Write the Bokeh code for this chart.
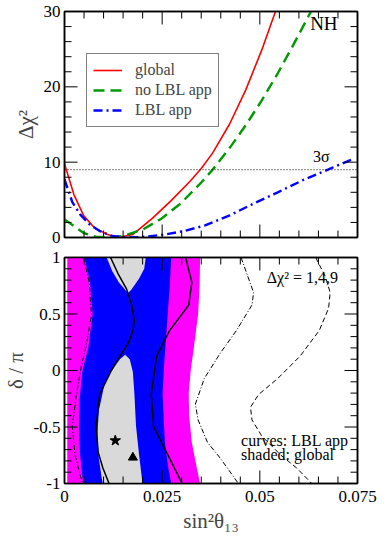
import numpy as np
from bokeh.plotting import figure
from bokeh.models import (Range1d, FixedTicker, LinearAxis, Legend, LegendItem,
                          Label, Span)
from bokeh.layouts import column
from bokeh.embed import file_html
from bokeh.resources import INLINE

FONT = "Liberation Serif"

# ---------------- data: top panel (delta chi^2 vs sin^2 theta13) ----------------
red_x = [0, 0.0024, 0.0049, 0.0077, 0.011, 0.0138, 0.0175, 0.0224, 0.0273, 0.0322,
         0.035, 0.0379, 0.0423, 0.0464, 0.0505, 0.054]
red_y = [9.8, 5.7, 2.9, 1.27, 0.4, 0.0, 0.4, 2.5, 4.9, 7.5,
         9.15, 11.2, 15.1, 19.6, 24.9, 30.0]

green_x = [0, 0.0049, 0.008, 0.0118, 0.015, 0.02, 0.0248, 0.0297, 0.035, 0.0379,
           0.0423, 0.0464, 0.0505, 0.0546, 0.0586, 0.0631]
green_y = [2.4, 0.6, 0.1, 0.0, 0.2, 1.05, 2.5, 4.5, 7.3, 9.0,
           11.9, 14.9, 18.2, 21.8, 25.6, 30.0]

blue_x = [0, 0.002, 0.0041, 0.0065, 0.009, 0.0122, 0.0167, 0.0208, 0.0257, 0.0305,
          0.036, 0.0423, 0.048, 0.0546, 0.061, 0.0683, 0.0737]
blue_y = [7.7, 4.7, 3.0, 1.7, 0.85, 0.2, 0.0, 0.1, 0.4, 0.85,
          1.6, 2.95, 4.4, 6.0, 7.6, 9.2, 10.4]

three_sigma = 9
series_labels = ["global", "no LBL app", "LBL app"]

top_xticks = [0, 0.025, 0.05, 0.075]
x_minor = [0.005, 0.01, 0.015, 0.02, 0.03, 0.035, 0.04, 0.045,
           0.055, 0.06, 0.065, 0.07]
top_yticks = [0, 10, 20, 30]
top_yminor = [2, 4, 6, 8, 12, 14, 16, 18, 22, 24, 26, 28]

# ---------------- data: bottom panel (delta/pi vs sin^2 theta13) ----------------
# global, Delta chi^2 = 9 region (magenta)
mag_left_d = [1, -1]
mag_left_x = [0.0007, 0.0007]
mag_right_d = [1, 0.75, 0.5, 0.2, 0, -0.2, -0.4, -0.64, -0.85, -1]
mag_right_x = [0.0347, 0.0346, 0.0342, 0.0331, 0.0323, 0.0318, 0.0319, 0.0326, 0.0338, 0.0347]
# global, Delta chi^2 = 4 region (blue)
blu_left_d = [1, 0.78, 0.5, 0.2, 0, -0.25, -0.5, -0.75, -1]
blu_left_x = [0.0051, 0.0065, 0.0072, 0.0061, 0.0046, 0.0039, 0.0037, 0.0040, 0.0048]
blu_right_d = [1, 0.78, 0.35, 0, -0.21, -0.64, -0.85, -1]
blu_right_x = [0.0273, 0.0270, 0.0261, 0.0254, 0.0251, 0.0257, 0.0265, 0.0273]
# global, Delta chi^2 = 1 regions (grey)
gry_up_x = [0.0108, 0.0122, 0.0139, 0.0159, 0.0164, 0.0171, 0.0191, 0.0204, 0.0208]
gry_up_d = [1.0, 0.88, 0.78, 0.70, 0.69, 0.714, 0.814, 0.9, 1.0]
gry_lo_x = [0.0098, 0.0095, 0.0088, 0.0084, 0.0088, 0.0102, 0.0118, 0.0142, 0.0155,
            0.0167, 0.0175, 0.0179, 0.0183, 0.0191, 0.0198, 0.0200]
gry_lo_d = [-1, -0.947, -0.777, -0.576, -0.353, -0.127, -0.014, 0.10, 0.14,
            0.10, -0.014, -0.21, -0.49, -0.75, -0.95, -1]

# LBL app contours
c1_left_d = [1.0, 0.85, 0.72, 0.58, 0.44, 0.35, 0.24, 0.127, 0.0, -0.21, -0.49, -0.72, -0.86, -1.0]
c1_left_x = [0.0118, 0.0138, 0.0159, 0.0172, 0.0179, 0.0175, 0.0163, 0.0142, 0.0120, 0.0090,
             0.0081, 0.0086, 0.0098, 0.0114]
c1_right_d = [1.0, 0.78, 0.58, 0.353, 0.127, -0.212, -0.494, -0.777, -1.0]
c1_right_x = [0.0310, 0.0326, 0.0318, 0.0269, 0.0236, 0.0222, 0.0228, 0.0269, 0.0301]

c4_left_d = [1.0, 0.78, 0.49, 0.21, 0.04, -0.25, -0.49, -0.75, -1.0]
c4_left_x = [0.0049, 0.0063, 0.0069, 0.0055, 0.0043, 0.0029, 0.0020, 0.0027, 0.0046]
c4_right_d = [1.0, 0.69, 0.58, 0.353, 0.155, -0.07, -0.297, -0.438, -0.636, -0.777, -1.0]
c4_right_x = [0.0452, 0.0484, 0.0480, 0.0440, 0.0399, 0.0358, 0.0335, 0.0342, 0.0366, 0.0399, 0.0445]

c9_right_d = [1.0, 0.83, 0.69, 0.55, 0.353, 0.127, -0.07, -0.212, -0.325, -0.438,
              -0.58, -0.75, -0.862, -1.0]
c9_right_x = [0.0643, 0.0668, 0.0680, 0.0676, 0.0652, 0.0603, 0.0546, 0.0497, 0.0476, 0.0480,
              0.0505, 0.0554, 0.0594, 0.0633]

star_x, star_d = [0.0130], [-0.62]
tri_x, tri_d = [0.0175], [-0.77]

bot_yticks = [-1, -0.5, 0, 0.5, 1]
bot_ylabels = ["-1", "-0.5", "0", "0.5", "1"]
bot_yminor = [-0.9, -0.8, -0.7, -0.6, -0.4, -0.3, -0.2, -0.1,
              0.1, 0.2, 0.3, 0.4, 0.6, 0.7, 0.8, 0.9]
x_ticklabels = ["0", "0.025", "0.05", "0.075"]

# ---------------- styling ----------------
FW, FH = 293, 226
LEFT, RIGHT = 59, 22
MAJ, MIN = 13, 7          # tick lengths in pixels
XR = (0, 0.075)


def add_axis(p, side, ticks, labels=None, yname="default"):
    ax = LinearAxis(ticker=FixedTicker(ticks=ticks, minor_ticks=[]))
    ax.major_tick_in = 0
    ax.major_tick_out = 0
    ax.minor_tick_in = 0
    ax.minor_tick_out = 0
    ax.axis_line_color = "black"
    ax.axis_line_width = 1.5
    if labels is None:
        ax.major_label_text_font_size = "0px"
        ax.major_label_standoff = 0
        ax.major_label_overrides = {t: "" for t in ticks}
    else:
        ax.major_label_overrides = {t: s for t, s in zip(ticks, labels)}
        ax.major_label_text_font = FONT
        ax.major_label_text_font_size = "17px"
        ax.major_label_text_color = "black"
        ax.major_label_standoff = 4 if side in ("left", "right") else 7
    p.add_layout(ax, side)
    return ax


def add_ticks(p, yr, xmaj, xmin, ymaj, ymin):
    """inward tick marks on all four sides, as segments of fixed pixel length"""
    x0, x1 = XR
    y0, y1 = yr
    px_x = (x1 - x0) / FW
    px_y = (y1 - y0) / FH
    for pos, ln in ((xmaj, MAJ), (xmin, MIN)):
        n = len(pos)
        p.segment(x0=pos, y0=[y0] * n, x1=pos, y1=[y0 + ln * px_y] * n,
                  line_color="black", line_width=1)
        p.segment(x0=pos, y0=[y1] * n, x1=pos, y1=[y1 - ln * px_y] * n,
                  line_color="black", line_width=1)
    for pos, ln in ((ymaj, MAJ), (ymin, MIN)):
        n = len(pos)
        p.segment(x0=[x0] * n, y0=pos, x1=[x0 + ln * px_x] * n, y1=pos,
                  line_color="black", line_width=1)
        p.segment(x0=[x1] * n, y0=pos, x1=[x1 - ln * px_x] * n, y1=pos,
                  line_color="black", line_width=1)


def base_fig(yr, top, bottom):
    p = figure(frame_width=FW, frame_height=FH,
               x_range=Range1d(*XR), y_range=Range1d(*yr),
               x_axis_location=None, y_axis_location=None,
               output_backend="svg", toolbar_location=None,
               min_border_left=LEFT, min_border_right=RIGHT,
               min_border_top=top, min_border_bottom=bottom)
    p.grid.visible = False
    p.outline_line_color = "black"
    p.outline_line_width = 1.5
    p.background_fill_color = "white"
    p.border_fill_color = "white"
    return p


# ---------------- top panel ----------------
p1 = base_fig((0, 30), 11, 10)
add_axis(p1, "below", top_xticks)
add_axis(p1, "above", top_xticks)
ay = add_axis(p1, "left", top_yticks, [str(t) for t in top_yticks])
ay.axis_label = "Δχ²"
ay.axis_label_text_font = FONT
ay.axis_label_text_font_size = "21px"
ay.axis_label_text_font_style = "normal"
ay.axis_label_standoff = 3
add_axis(p1, "right", top_yticks)

p1.add_layout(Span(location=three_sigma, dimension="width", line_color="black",
                   line_width=1, line_dash="1 2"))

r_red = p1.line(red_x, red_y, line_color="#ff0000", line_width=1.6)
r_green = p1.line(green_x, green_y, line_color="#009a00", line_width=2.4, line_dash="11 6")
r_blue = p1.line(blue_x, blue_y, line_color="#0000ff", line_width=2.4, line_dash="9 4 2 4")

add_ticks(p1, (0, 30), top_xticks, x_minor, top_yticks, top_yminor)

legend = Legend(items=[LegendItem(label=series_labels[0], renderers=[r_red]),
                       LegendItem(label=series_labels[1], renderers=[r_green]),
                       LegendItem(label=series_labels[2], renderers=[r_blue])],
                location=(22, 110), orientation="vertical",
                border_line_color="black", border_line_width=1.5,
                background_fill_color="white", background_fill_alpha=1,
                label_text_font=FONT, label_text_font_size="16px",
                glyph_width=29, glyph_height=20, label_height=20,
                spacing=0, padding=6, margin=0, label_standoff=13)
p1.add_layout(legend)

p1.add_layout(Label(x=0.0699, y=27, text="NH", text_align="right",
                    text_font=FONT, text_font_size="19px", text_color="black"))
p1.add_layout(Label(x=0.0636, y=9.6, text="3σ", text_align="left",
                    text_font=FONT, text_font_size="16px", text_color="black"))

# ---------------- bottom panel ----------------
p2 = base_fig((-1, 1), 10, 8)
ax2 = add_axis(p2, "below", top_xticks, x_ticklabels)
ax2.axis_label = "sin²θ₁₃"
ax2.axis_label_text_font = FONT
ax2.axis_label_text_font_size = "21px"
ax2.axis_label_text_font_style = "normal"
ax2.axis_label_standoff = 4
add_axis(p2, "above", top_xticks)
ay2 = add_axis(p2, "left", bot_yticks, bot_ylabels)
ay2.axis_label = "δ / π"
ay2.axis_label_text_font = FONT
ay2.axis_label_text_font_size = "21px"
ay2.axis_label_text_font_style = "normal"
ay2.axis_label_standoff = 3
add_axis(p2, "right", bot_yticks)

# shaded global regions
p2.patch(mag_left_x + mag_right_x[::-1], mag_left_d + mag_right_d[::-1],
         fill_color="#ff00ff", line_color=None)
p2.patch(blu_left_x + blu_right_x[::-1], blu_left_d + blu_right_d[::-1],
         fill_color="#0000ff", line_color=None)
p2.patch(gry_up_x, gry_up_d, fill_color="#d9d9d9", line_color=None)
p2.patch(gry_lo_x, gry_lo_d, fill_color="#d9d9d9", line_color=None)

# LBL app contours
p2.line(c1_left_x, c1_left_d, line_color="black", line_width=1.5)
p2.line(c1_right_x, c1_right_d, line_color="black", line_width=1.5)
p2.line(c4_left_x, c4_left_d, line_color="black", line_width=1, line_dash="5 2 1 2")
p2.line(c4_right_x, c4_right_d, line_color="black", line_width=1, line_dash="5 2 1 2")
p2.line(c9_right_x, c9_right_d, line_color="black", line_width=1, line_dash="5 3")

p2.scatter(star_x, star_d, marker="star", size=11, color="black")
p2.scatter(tri_x, tri_d, marker="triangle", size=9, color="black")

add_ticks(p2, (-1, 1), top_xticks, x_minor, bot_yticks, bot_yminor)

p2.add_layout(Label(x=0.0700, y=0.746, text="Δχ² = 1,4,9", text_align="right",
                    text_font=FONT, text_font_size="16px", text_color="black"))
p2.add_layout(Label(x=0.0452, y=-0.695, text="curves: LBL app", text_align="left",
                    text_font=FONT, text_font_size="16px", text_color="black"))
p2.add_layout(Label(x=0.0452, y=-0.822, text="shaded: global", text_align="left",
                    text_font=FONT, text_font_size="16px", text_color="black"))

layout = column(p1, p2, spacing=0)
open("out.html", "w").write(file_html(layout, INLINE))
